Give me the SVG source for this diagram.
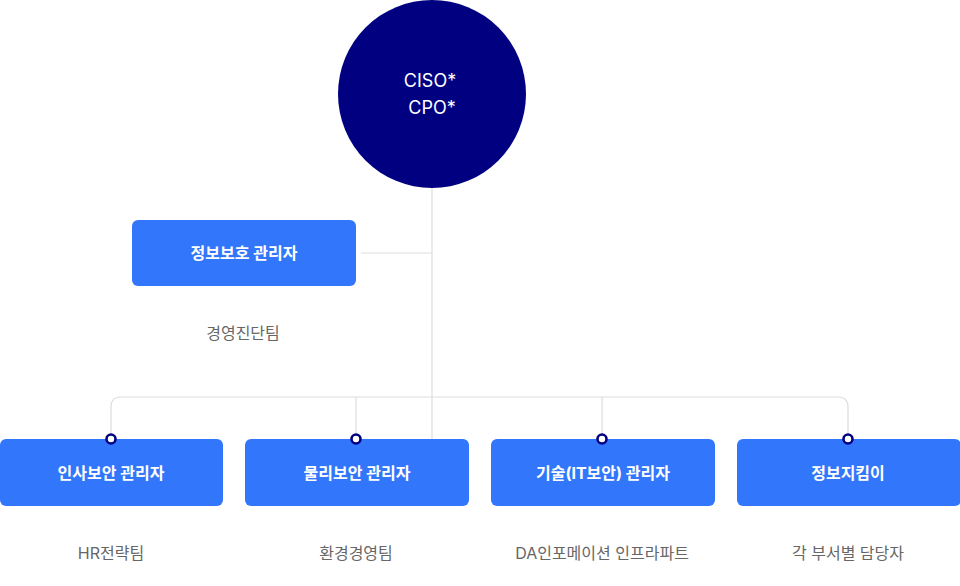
<svg xmlns="http://www.w3.org/2000/svg" width="960" height="586" viewBox="0 0 960 586">
<style>
.box{fill:#3276fb}
.bt{font-family:Inter,"Noto Sans CJK KR",sans-serif;font-size:16px;font-weight:700;fill:#fff;text-anchor:middle}
.lb{font-family:Inter,"Noto Sans CJK KR",sans-serif;font-size:16px;fill:#666;text-anchor:middle}
.ct{font-family:Inter,"Noto Sans CJK KR",sans-serif;font-size:18px;fill:#fff;text-anchor:middle}
.ln{fill:none;stroke:#dddddd;stroke-width:1.2}
.dot{fill:#fff;stroke:#000080;stroke-width:2.6}
</style>
<g id="connectors">
<path class="ln" d="M432 188 V439"/>
<path class="ln" d="M361 253 H432"/>
<path class="ln" d="M111 439 V407 Q111 397 121 397 H838 Q848 397 848 407 V439"/>
<path class="ln" d="M356 397 V439"/>
<path class="ln" d="M602 397 V439"/>
</g>
<g id="ciso">
<circle cx="432" cy="94" r="94" fill="#000080"/>
<text class="ct" x="430" y="87">CISO*</text>
<text class="ct" x="432" y="114">CPO*</text>
</g>
<g id="n-info">
<rect class="box" x="132" y="220" width="224" height="66" rx="6"/>
<text class="bt" x="244" y="259">정보보호 관리자</text>
<text class="lb" x="243" y="339">경영진단팀</text>
</g>
<g id="n-hr">
<rect class="box" x="0" y="439" width="223" height="67" rx="6"/>
<text class="bt" x="111" y="479">인사보안 관리자</text>
<text class="lb" x="111" y="559">HR전략팀</text>
</g>
<g id="n-phys">
<rect class="box" x="245" y="439" width="224" height="67" rx="6"/>
<text class="bt" x="357" y="479">물리보안 관리자</text>
<text class="lb" x="356" y="559">환경경영팀</text>
</g>
<g id="n-tech">
<rect class="box" x="491" y="439" width="224" height="67" rx="6"/>
<text class="bt" x="603" y="479">기술(IT보안) 관리자</text>
<text class="lb" x="602" y="559">DA인포메이션 인프라파트</text>
</g>
<g id="n-keeper">
<rect class="box" x="737" y="439" width="224" height="67" rx="6"/>
<text class="bt" x="848" y="479">정보지킴이</text>
<text class="lb" x="848" y="559">각 부서별 담당자</text>
</g>
<g id="dots">
<circle class="dot" cx="111" cy="439" r="4.5"/>
<circle class="dot" cx="356" cy="439" r="4.5"/>
<circle class="dot" cx="602" cy="439" r="4.5"/>
<circle class="dot" cx="848" cy="439" r="4.5"/>
</g>
</svg>
